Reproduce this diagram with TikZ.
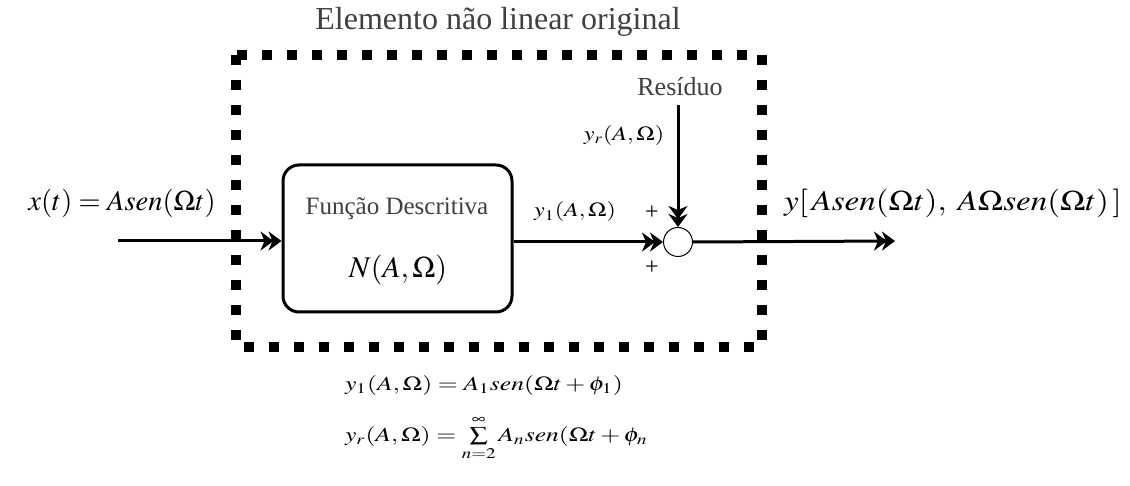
\documentclass[tikz,border=0pt]{standalone}
\usepackage{mathptmx}
\usepackage{fontspec}
\setmainfont{Liberation Serif}
\usetikzlibrary{arrows.meta}

\tikzset{
  seta/.style={line width=3pt, -{Stealth[length=13pt,width=19pt,inset=4pt,sep=-5pt]Stealth[length=13pt,width=19pt,inset=4pt]}},
  rotulo/.style={font=\normalsize, inner sep=1pt}
}

\begin{document}
\begin{tikzpicture}[x=1pt, y=1pt]
	
	% Moldura da figura
	\useasboundingbox (0,0) rectangle (1130,-486);
	
	% Caixa pontilhada do elemento nao linear
	\draw[line width=10pt, dash pattern=on 10pt off 15pt]
	(236,-55) rectangle (762,-347);
	
	\node[font=\fontsize{32}{36}\selectfont, text=black!75] (titulo) at (498,-22) {Elemento não linear original};
	
	% Bloco da funcao descritiva
	\node[draw, line width=3pt, rounded corners=16pt, minimum width=229pt, minimum height=147pt] (fd) at (397.5,-238.5) {};
	\node[font=\fontsize{25}{29}\selectfont, text=black!75] (fdtxt) at (397,-209) {Função Descritiva};
	\node[rotulo, scale=3] (fdN) at (398,-270) {$N(A,\Omega)$};
	
	% Somador
	\node[draw, circle, line width=1pt, minimum size=29pt, inner sep=0pt] (soma) at (678,-242) {};
	
	% Pontas livres
	\coordinate (entrada) at (118,-241);
	\coordinate (residuo) at (678,-105);
	\coordinate (saida) at (895,-241);
	
	% Conexoes
	\draw[seta] (entrada) -- (fd.west |- entrada);
	\draw[seta] (fd.east |- soma) -- (soma.west);
	\draw[seta] (residuo) -- (soma.north);
	\draw[seta] (soma.east) -- (saida);
	
	% Textos
	\node[rotulo, scale=2.85] (xt) at (122,-203) {$x(t)=Asen(\Omega t)$};
	\node[rotulo, scale=2, xscale=1.2] (y1) at (575,-212) {$y_1(A,\Omega)$};
	\node[rotulo, scale=2, xscale=1.2] (yr) at (624,-136) {$y_r(A,\Omega)$};
	\node[font=\fontsize{26}{30}\selectfont, text=black!75] (res) at (680,-87) {Resíduo};
	\node[font=\fontsize{24}{28}\selectfont] (mais1) at (652,-213) {+};
	\node[font=\fontsize{24}{28}\selectfont] (mais2) at (652,-268) {+};
	\node[rotulo, scale=2.85, xscale=1.16] (yt) at (953,-203) {$y[\,Asen(\Omega t),\;A\Omega sen(\Omega t)\,]$};
	
	% Equacoes abaixo
	\node[rotulo, scale=2, xscale=1.28, anchor=west] (eq1) at (342,-385) {$y_1(A,\Omega)=A_1 sen(\Omega t+\phi_1)$};
	\node[rotulo, scale=2, xscale=1.28, anchor=west] (eq2) at (342,-438) {$y_r(A,\Omega)=\sum\limits_{n=2}^{\infty}A_n sen(\Omega t+\phi_n$};
	
\end{tikzpicture}
\end{document}
